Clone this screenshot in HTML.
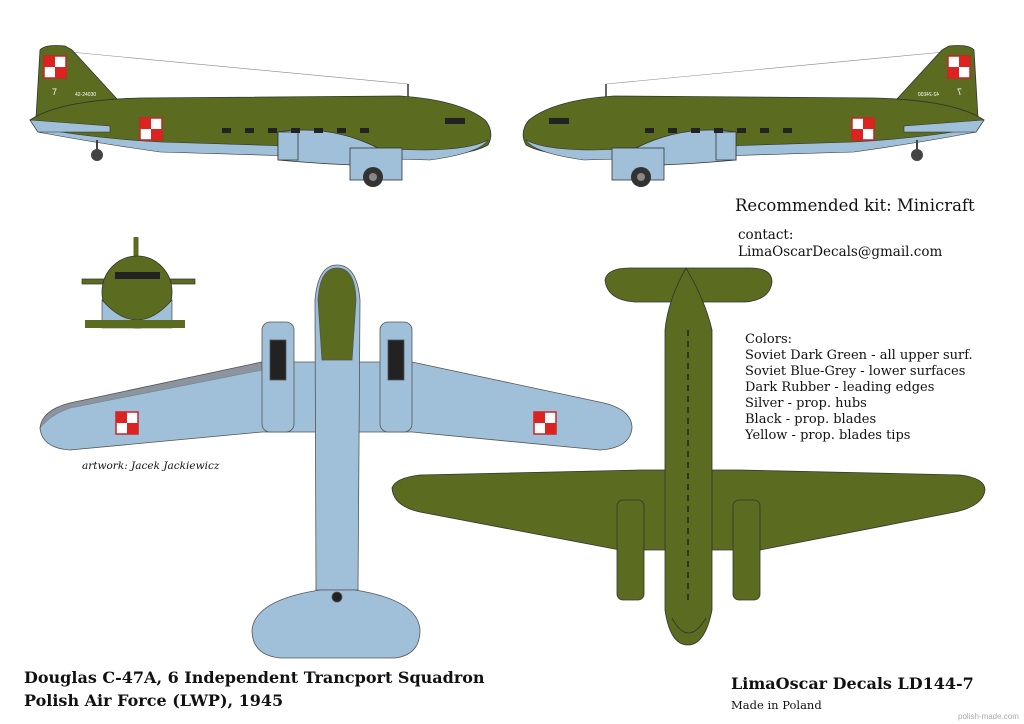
<!DOCTYPE html>
<html><head><meta charset="utf-8"><style>
html,body{margin:0;padding:0;background:#fff;width:1024px;height:724px;overflow:hidden}
svg{display:block}
.s{font-family:"DejaVu Serif",serif;fill:#111}
</style></head><body>
<svg width="1024" height="724" viewBox="0 0 1024 724" xmlns="http://www.w3.org/2000/svg">
<defs>
<g id="chk"><rect width="22" height="22" fill="#fff" stroke="#c22" stroke-width="1.5"/><rect x="0" y="0" width="11" height="11" fill="#d22"/><rect x="11" y="11" width="11" height="11" fill="#d22"/></g>
<g id="side">
 <line x1="70" y1="52" x2="408" y2="84" stroke="#888" stroke-width="0.6"/>
 <line x1="408" y1="84" x2="408" y2="100" stroke="#333" stroke-width="1.5"/>
 <path d="M36,118 L40,50 Q45,44 65,46 L72,50 L118,100 L120,118 Z" fill="#5b6b1f" stroke="#333" stroke-width="0.8"/>
 <path d="M30,120 Q60,100 140,98 L400,96 Q460,100 485,120 Q495,132 488,145 Q470,155 420,158 L160,150 Q90,140 38,132 Z" fill="#5b6b1f" stroke="#333" stroke-width="0.8"/>
 <path d="M38,128 Q90,138 160,142 L420,150 Q470,150 488,140 Q480,153 430,160 L160,152 Q90,142 38,132 Z" fill="#9fc0d8" stroke="#333" stroke-width="0.6"/>
 <path d="M30,120 L110,126 L110,132 L38,132 Z" fill="#9fc0d8" stroke="#333" stroke-width="0.6"/>
 <path d="M278,132 Q330,124 378,148 L378,165 Q345,166 278,160 Z" fill="#9fc0d8" stroke="#333" stroke-width="0.8"/>
 <path d="M278,132 L298,132 L298,160 L278,160 Z" fill="#9fc0d8" stroke="#333" stroke-width="0.8"/>
 <rect x="350" y="148" width="52" height="32" fill="#9fc0d8" stroke="#333" stroke-width="0.8"/>
 <circle cx="373" cy="177" r="10" fill="#333"/>
 <circle cx="373" cy="177" r="4" fill="#888"/>
 <circle cx="97" cy="155" r="6" fill="#444"/>
 <line x1="97" y1="140" x2="97" y2="152" stroke="#444" stroke-width="2"/>
 <g fill="#222"><rect x="222" y="128" width="9" height="5"/><rect x="245" y="128" width="9" height="5"/><rect x="268" y="128" width="9" height="5"/><rect x="291" y="128" width="9" height="5"/><rect x="314" y="128" width="9" height="5"/><rect x="337" y="128" width="9" height="5"/><rect x="360" y="128" width="9" height="5"/><rect x="445" y="118" width="20" height="6"/></g>
 <use href="#chk" x="44" y="56"/>
 <use href="#chk" x="140" y="118"/>
 <text x="52" y="95" font-family="Liberation Sans,sans-serif" font-size="9" fill="#fff">7</text>
 <text x="75" y="96" font-family="Liberation Sans,sans-serif" font-size="5" fill="#fff">42-24030</text>
</g>
</defs>
<use href="#side"/>
<g transform="translate(1014,0) scale(-1,1)"><use href="#side"/></g>

<g>
 <path d="M82,279 L195,279 L195,284 L82,284 Z" fill="#5b6b1f" stroke="#333" stroke-width="0.7"/>
 <path d="M136,237 L136,262" stroke="#5b6b1f" stroke-width="5"/>
 <ellipse cx="137" cy="292" rx="35" ry="36" fill="#5b6b1f" stroke="#333" stroke-width="0.8"/>
 <path d="M102,300 Q137,340 172,300 L172,328 L102,328 Z" fill="#9fc0d8" stroke="#333" stroke-width="0.6"/>
 <path d="M85,320 L185,320 L185,328 L85,328 Z" fill="#5b6b1f"/>
 <rect x="115" y="272" width="45" height="7" fill="#222"/>
</g>

<g stroke="#555" stroke-width="0.8">
 <path d="M40,428 Q42,410 70,403 L262,362 L412,362 L604,403 Q632,410 632,428 Q630,448 600,450 L412,432 L262,432 L70,450 Q42,448 40,428 Z" fill="#9fc0d8"/>
 <path d="M40,428 Q42,410 70,403 L262,362 L262,370 L70,408 Q50,415 40,428Z" fill="#7a6a6a" opacity="0.5"/>
 <path d="M315,300 Q318,265 337,265 Q357,265 360,300 L358,590 L316,590 Z" fill="#9fc0d8"/>
 <path d="M318,300 Q320,268 337,268 Q355,268 356,300 L352,360 L322,360 Z" fill="#5b6b1f"/>
 <path d="M252,630 Q255,600 320,590 L355,590 Q418,600 420,630 Q420,655 395,658 L280,658 Q252,655 252,630 Z" fill="#9fc0d8"/>
 <rect x="262" y="322" width="32" height="110" rx="8" fill="#9fc0d8"/>
 <rect x="380" y="322" width="32" height="110" rx="8" fill="#9fc0d8"/>
 <rect x="270" y="340" width="16" height="40" fill="#222"/>
 <rect x="388" y="340" width="16" height="40" fill="#222"/>
 <circle cx="337" cy="597" r="5" fill="#222"/>
</g>
<use href="#chk" x="116" y="412"/>
<use href="#chk" x="534" y="412"/>

<g stroke="#333" stroke-width="0.8">
 <path d="M392,488 Q395,478 420,475 L640,470 L740,470 L960,475 Q985,478 985,490 Q983,506 955,512 L760,550 L620,550 L420,512 Q393,506 392,488 Z" fill="#5b6b1f"/>
 <path d="M605,280 Q607,268 630,268 L750,268 Q772,268 772,282 Q770,300 745,302 L635,302 Q607,300 605,280 Z" fill="#5b6b1f"/>
 <path d="M665,330 Q668,300 686,268 Q705,300 712,330 L712,610 Q705,645 688,645 Q670,645 665,610 Z" fill="#5b6b1f"/>
 <path d="M672,618 Q688,648 706,618" fill="none"/>
 <rect x="617" y="500" width="27" height="100" rx="6" fill="#5b6b1f"/>
 <rect x="733" y="500" width="27" height="100" rx="6" fill="#5b6b1f"/>
 <line x1="688" y1="330" x2="688" y2="600" stroke="#222" stroke-dasharray="6 5" stroke-width="1.5"/>
</g>

<text class="s" x="735" y="211" font-size="16.5">Recommended kit: Minicraft</text>
<text class="s" x="738" y="239" font-size="13.5">contact:</text>
<text class="s" x="738" y="256" font-size="13.5">LimaOscarDecals@gmail.com</text>
<g class="s" font-size="13">
<text x="745" y="343">Colors:</text>
<text x="745" y="359">Soviet Dark Green - all upper surf.</text>
<text x="745" y="375">Soviet Blue-Grey - lower surfaces</text>
<text x="745" y="391">Dark Rubber - leading edges</text>
<text x="745" y="407">Silver - prop. hubs</text>
<text x="745" y="423">Black - prop. blades</text>
<text x="745" y="439">Yellow - prop. blades tips</text>
</g>
<text class="s" x="82" y="469" font-size="10.5" font-style="italic">artwork: Jacek Jackiewicz</text>
<text class="s" x="24" y="683" font-size="16" font-weight="bold">Douglas C-47A, 6 Independent Trancport Squadron</text>
<text class="s" x="24" y="706" font-size="16" font-weight="bold">Polish Air Force  (LWP), 1945</text>
<text class="s" x="731" y="689" font-size="16" font-weight="bold">LimaOscar Decals LD144-7</text>
<text class="s" x="731" y="709" font-size="11.5">Made in Poland</text>
<text x="958" y="719" font-family="Liberation Sans,sans-serif" font-size="8" fill="#aaa">polish-made.com</text>
</svg>
</body></html>
